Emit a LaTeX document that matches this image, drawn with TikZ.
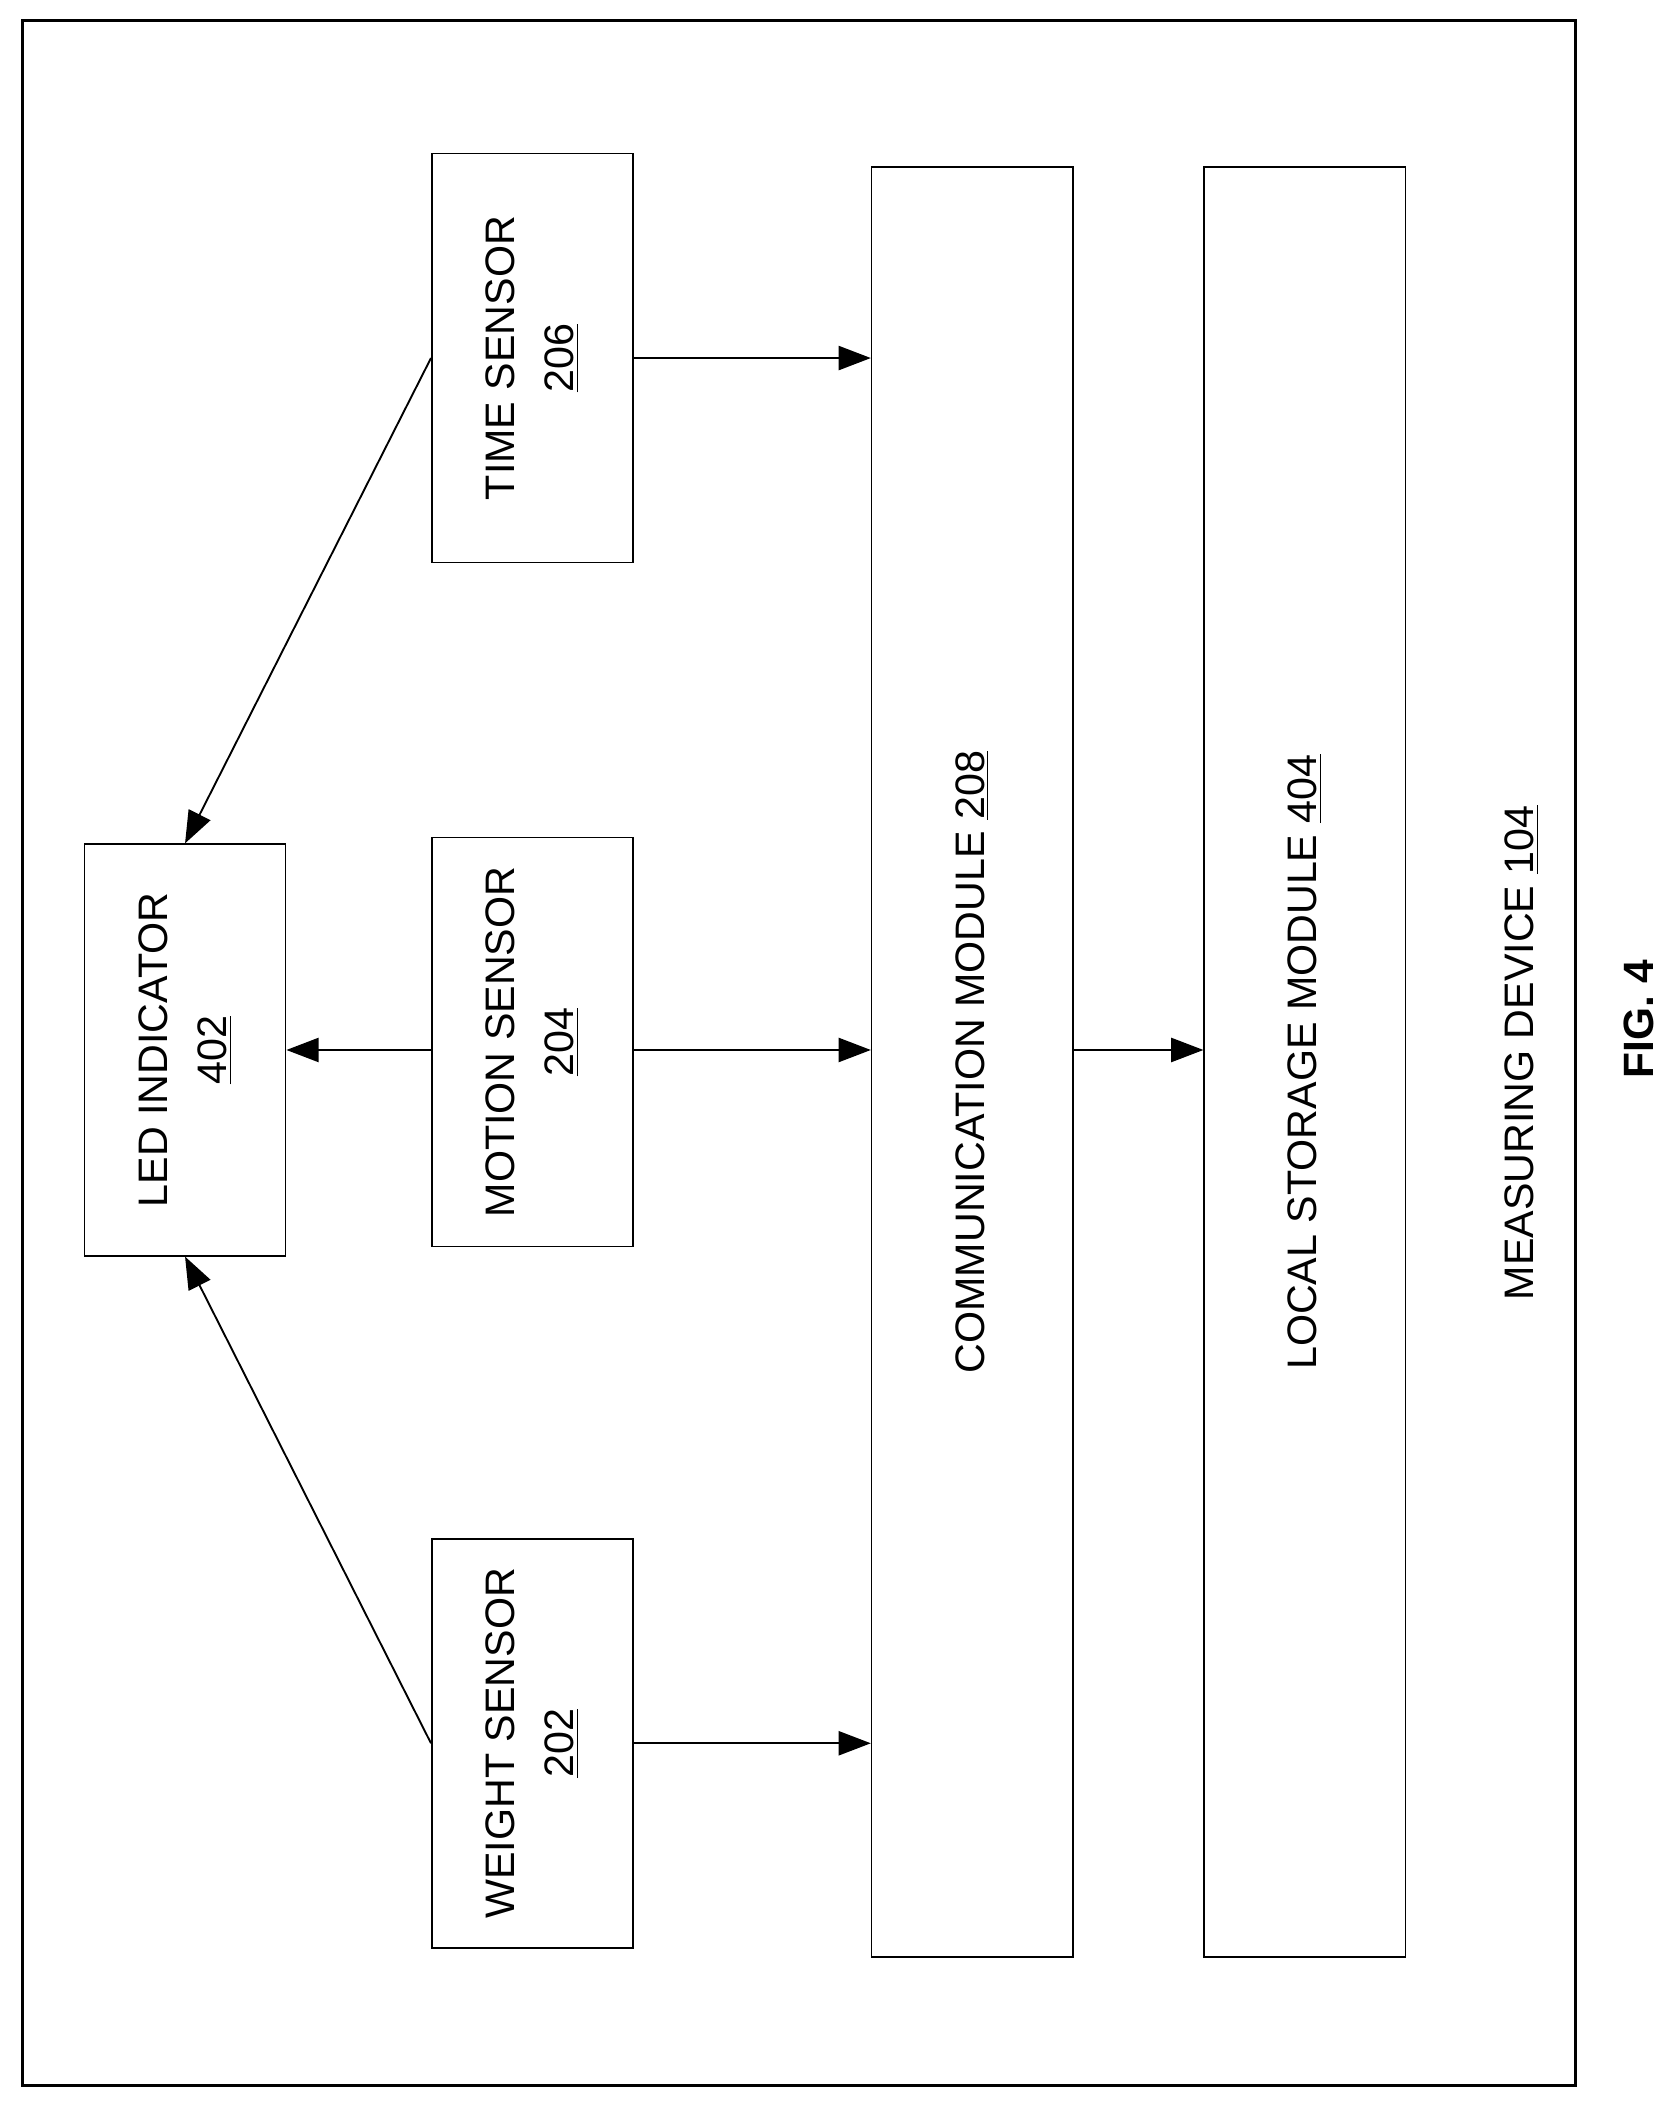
\documentclass[tikz,border=0pt]{standalone}
\usepackage{fontspec}
\setmainfont{Liberation Sans}
\usetikzlibrary{arrows.meta}

\begin{document}
\begin{tikzpicture}[x=0.02cm, y=0.02cm,
    block/.style={draw, line width=0.7pt, rotate=90, align=center, inner sep=0pt,
                  font=\fontsize{17.5}{25}\selectfont},
    link/.style={line width=0.8pt, -{Triangle[length=0.48cm, width=0.36cm]}}]

        \useasboundingbox (0,0) rectangle (1250,-1572);
        % Outer frame
        \draw[line width=1.2pt] (17,-15) rectangle (1175,-1555);

        % Sensors and indicator
        \node[block, minimum width=6.1cm, minimum height=3cm] (time) at (397,-267) {TIME SENSOR\\\underline{206}};
        \node[block, minimum width=6.1cm, minimum height=3cm] (motion) at (397,-777) {MOTION SENSOR\\\underline{204}};
        \node[block, minimum width=6.1cm, minimum height=3cm] (weight) at (397,-1300) {WEIGHT SENSOR\\\underline{202}};
        \node[block, minimum width=6.14cm, minimum height=3cm] (led) at (138,-783) {LED INDICATOR\\\underline{402}};

        % Modules
        \node[block, minimum width=26.7cm, minimum height=3cm] (comm) at (725,-792) {COMMUNICATION MODULE \underline{208}};
        \node[block, minimum width=26.7cm, minimum height=3cm] (store) at (973,-792) {LOCAL STORAGE MODULE \underline{404}};
        \coordinate (mid) at (0,-783);

        % Captions
        \node[rotate=90, font=\fontsize{17.5}{20}\selectfont] (device) at (1135,-785) {MEASURING DEVICE \underline{104}};
        \node[rotate=90, font=\bfseries\fontsize{18}{20}\selectfont] (fig) at (1222,-760) {FIG. 4};

        % Connectors
        \draw[link] (time.north) -- (led.east);
        \draw[link] (motion.north |- mid) -- (led.south);
        \draw[link] (weight.north) -- (led.west);
        \draw[link] (time.south) -- (time.south -| comm.north);
        \draw[link] (motion.south |- mid) -- (mid -| comm.north);
        \draw[link] (weight.south) -- (weight.south -| comm.north);
        \draw[link] (comm.south |- mid) -- (mid -| store.north);

\end{tikzpicture}
\end{document}
